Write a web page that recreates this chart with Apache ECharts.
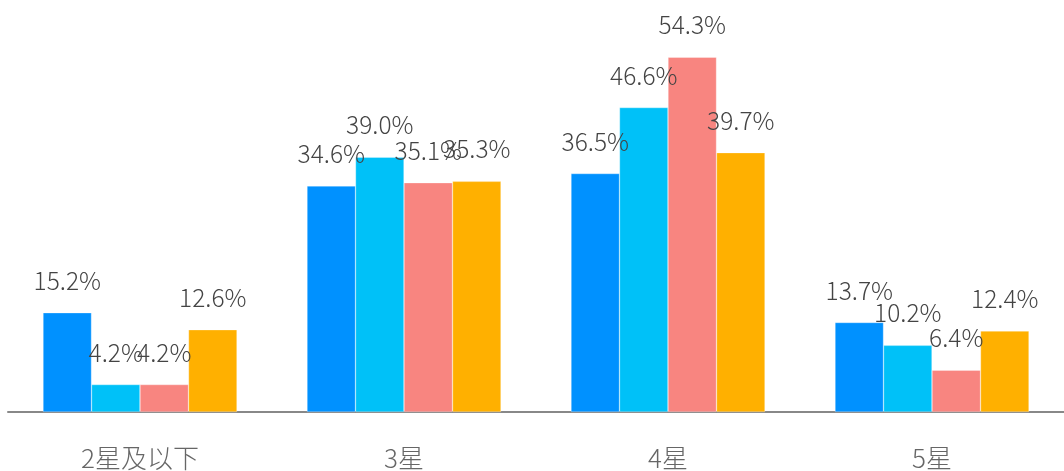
<!DOCTYPE html>
<html>
<head>
<meta charset="utf-8">
<script src="https://cdn.jsdelivr.net/npm/echarts@6/dist/echarts.min.js"></script>
<style>
html, body { margin: 0; padding: 0; background: #fff; }
#main { width: 1064px; height: 471px; }
</style>
</head>
<body>
<div id="main"></div>
<script>
var categories = ['2星及以下', '3星', '4星', '5星'];
var seriesA = [15.2, 34.6, 36.5, 13.7];
var seriesB = [4.2, 39.0, 46.6, 10.2];
var seriesC = [4.2, 35.1, 54.3, 6.4];
var seriesD = [12.6, 35.3, 39.7, 12.4];
var colors = ['#0091ff', '#00c1f8', '#f88580', '#ffb000'];

var myChart = echarts.init(document.getElementById('main'));

var makeSeries = function (name, data) {
    return {
        name: name,
        type: 'bar',
        data: data,
        barWidth: 48.5,
        barGap: 0,
        itemStyle: {
            borderColor: 'rgba(255,255,255,0.6)',
            borderWidth: 0.5
        },
        label: {
            show: true,
            position: 'top',
            distance: 20,
            color: '#444',
            fontSize: 24.5,
            fontWeight: 300,
            fontFamily: 'Noto Sans CJK SC',
            formatter: function (p) {
                return p.value.toFixed(1) + '%';
            }
        }
    };
};

var option = {
    backgroundColor: '#fff',
    color: colors,
    animation: false,
    grid: {
        left: 8,
        right: -3,
        top: 20,
        bottom: 58
    },
    xAxis: {
        type: 'category',
        data: categories,
        axisLine: {
            lineStyle: { color: '#888', width: 2 }
        },
        axisTick: { show: false },
        axisLabel: {
            color: '#666',
            fontSize: 26,
            fontWeight: 300,
            margin: 33,
            fontFamily: 'Noto Sans CJK SC'
        }
    },
    yAxis: {
        type: 'value',
        min: 0,
        max: 60,
        show: false,
        splitLine: { show: false }
    },
    series: [
        makeSeries('A', seriesA),
        makeSeries('B', seriesB),
        makeSeries('C', seriesC),
        makeSeries('D', seriesD)
    ]
};
myChart.setOption(option);
</script>
</body>
</html>
